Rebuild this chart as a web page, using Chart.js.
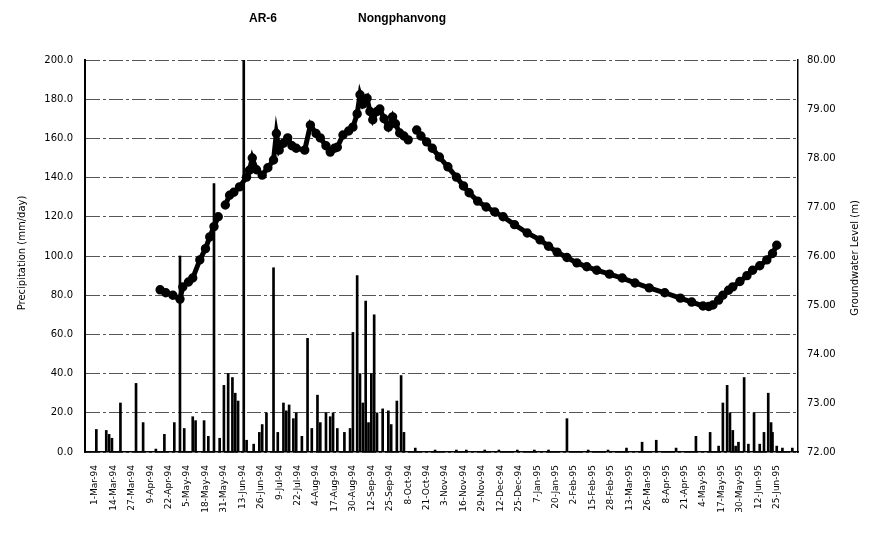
<!DOCTYPE html>
<html>
<head>
<meta charset="utf-8">
<script src="https://cdn.jsdelivr.net/npm/chart.js@4"></script>
<style>
  html, body { margin: 0; padding: 0; background: #fff; }
  #wrap { width: 872px; height: 538px; }
</style>
</head>
<body>
<div id="wrap"><canvas id="arChart" width="872" height="538"></canvas></div>
<script>
// days are counted from 1-Mar-94 (day 0)
const tickDays = [0, 13, 26, 39, 52, 65, 78, 91, 104, 117, 130, 143, 156, 169, 182, 195, 208, 221, 234,
    247, 260, 273, 286, 299, 312, 325, 338, 351, 364, 377, 390, 403, 416, 429, 442, 455, 468, 481];
const tickLabels = [
    "1-Mar-94", "14-Mar-94", "27-Mar-94", "9-Apr-94", "22-Apr-94", "5-May-94", "18-May-94", "31-May-94",
    "13-Jun-94", "26-Jun-94", "9-Jul-94", "22-Jul-94", "4-Aug-94", "17-Aug-94", "30-Aug-94", "12-Sep-94",
    "25-Sep-94", "8-Oct-94", "21-Oct-94", "3-Nov-94", "16-Nov-94", "29-Nov-94", "12-Dec-94", "25-Dec-94",
    "7-Jan-95", "20-Jan-95", "2-Feb-95", "15-Feb-95", "28-Feb-95", "13-Mar-95", "26-Mar-95", "8-Apr-95",
    "21-Apr-95", "4-May-95", "17-May-95", "30-May-95", "12-Jun-95", "25-Jun-95"
];

// daily precipitation (mm/day), only the days with rain
const rainDay = [1, 8, 10, 12, 18, 29, 34, 43, 49, 56, 60, 63, 69, 71, 77, 80, 84, 88, 91, 94, 97, 99, 101, 105,
    107, 112, 116, 118, 121, 126, 129, 133, 135, 137, 140, 142, 146, 150, 153, 157, 159, 163, 166, 168, 171,
    176, 180, 182, 185, 187, 189, 191, 193, 195, 197, 199, 203, 207, 209, 213, 216, 218,
    226, 240, 255, 262, 275, 285, 298, 310, 320, 333, 348, 362, 375, 386, 396, 410, 424, 434, 440,
    443, 446, 448, 450, 452, 454, 458, 461, 465, 469, 472, 475, 477, 478, 481, 485, 492];
const rainMm = [11.5, 11, 9, 7, 25, 35, 15, 1.5, 9, 15, 100, 12, 18, 16, 16, 8, 137, 7, 34, 40, 38, 30, 26, 200,
    6, 4, 10, 14, 20, 94, 10, 25, 21, 24, 17, 20, 8, 58, 12, 29, 15, 20, 18, 20, 12,
    10, 12, 61, 90, 40, 25, 77, 15, 40, 70, 20, 22, 21, 14, 26, 39, 10,
    2, 1, 1, 1, 1, 1, 1, 1, 1, 17, 1, 1, 2, 5, 6, 2, 8, 10, 3,
    25, 34, 20, 11, 3, 5, 38, 4, 20, 4, 10, 30, 15, 10, 3, 2, 2];

// groundwater level (m), null marks a break in the record
const levelDay = [46, 50, 55, 60, 62, 66, 69, 74, 78, 81, 84, 87, 89,
    92, 95, 98, 102, 107, 109, 111, 114, 118, 122, 126, 128, 130, 133, 136, 139, 142, 148, 152, 156, 159,
    163, 166, 169, 171, 175, 179, 182, 185, 187, 189, 192, 194, 196, 199, 201, 204, 207, 210, 212, 215,
    218, 221, 224,
    227, 230, 234, 238, 243, 249, 255, 260, 264, 270, 276, 282, 288, 296, 305, 314, 320, 326, 333, 340,
    347, 354, 363, 372, 381, 391, 402, 413, 421, 429, 433, 436, 440, 443, 447, 450, 455, 460, 464, 469,
    474, 478, 481];
const levelM = [75.31, 75.25, 75.2, 75.12, 75.37, 75.47, 75.55, 75.92, 76.15, 76.39, 76.6, 76.8, null,
    77.04, 77.24, 77.3, 77.41, 77.61, 77.75, 78.0, 77.76, 77.65, 77.8, 77.96, 78.5, 78.16, 78.3, 78.41, 78.25,
    78.2, 78.16, 78.67, 78.5, 78.41, 78.25, 78.12, 78.2, 78.22, 78.47, 78.55, 78.63, 78.9, 79.29, 79.1, 79.22,
    78.95, 78.78, 78.95, 79.0, 78.8, 78.63, 78.84, 78.7, 78.51, 78.45, 78.37, null,
    78.57, 78.45, 78.33, 78.2, 78.02, 77.82, 77.61, 77.43, 77.29, 77.12, 77.0, 76.9, 76.8, 76.64, 76.47,
    76.33, 76.2, 76.08, 75.97, 75.86, 75.78, 75.71, 75.63, 75.55, 75.45, 75.35, 75.25, 75.14, 75.06, 74.98,
    74.97, 75.0, 75.1, 75.2, 75.3, 75.37, 75.48, 75.6, 75.71, 75.8, 75.92, 76.05, 76.22];

const FONT = "'DejaVu Sans', sans-serif";

// titles drawn by hand so the right one reads bottom-to-top like the left one
const titlesPlugin = {
    id: 'titles',
    afterDraw(chart) {
        const ctx = chart.ctx;
        ctx.save();
        ctx.fillStyle = '#000';
        ctx.textAlign = 'center';
        ctx.textBaseline = 'middle';
        ctx.font = "bold 12px 'Liberation Sans', sans-serif";
        ctx.fillText('AR-6', 263, 19);
        ctx.fillText('Nongphanvong', 402, 19);

        ctx.font = '10px ' + FONT;
        ctx.translate(22, 253);
        ctx.rotate(-Math.PI / 2);
        ctx.fillText('Precipitation (mm/day)', 0, 0);
        ctx.restore();

        ctx.save();
        ctx.fillStyle = '#000';
        ctx.textAlign = 'center';
        ctx.textBaseline = 'middle';
        ctx.font = '10px ' + FONT;
        ctx.translate(855, 258);
        ctx.rotate(-Math.PI / 2);
        ctx.fillText('Groundwater Level (m)', 0, 0);
        ctx.restore();
    }
};

const ctx = document.getElementById('arChart').getContext('2d');
new Chart(ctx, {
    type: 'bar',
    data: {
        datasets: [{
            type: 'line',
            label: 'Groundwater Level',
            data: levelDay.map((d, i) => ({ x: d, y: levelM[i] })),
            yAxisID: 'y1',
            borderColor: '#000',
            borderWidth: 5,
            pointRadius: 2.2,
            pointBackgroundColor: '#000',
            pointBorderColor: '#000',
            tension: 0,
            spanGaps: false,
            order: 0
        }, {
            label: 'Precipitation',
            data: rainDay.map((d, i) => ({ x: d, y: rainMm[i] })),
            yAxisID: 'y',
            backgroundColor: '#000',
            borderWidth: 0,
            barThickness: 2,
            order: 1
        }]
    },
    options: {
        responsive: false,
        animation: false,
        layout: { padding: { top: 60 } },
        plugins: {
            legend: { display: false },
            tooltip: { enabled: false }
        },
        scales: {
            x: {
                type: 'linear',
                min: -7,
                max: 496,
                offset: false,
                afterBuildTicks: s => { s.ticks = tickDays.map(v => ({ value: v })); },
                afterFit: s => { s.height = 86; },
                grid: { display: false },
                border: { display: true, color: '#000', width: 1.5 },
                ticks: {
                    autoSkip: false,
                    minRotation: 90,
                    maxRotation: 90,
                    padding: 5,
                    color: '#000',
                    font: { family: FONT, size: 9 },
                    callback: (v, i) => tickLabels[i]
                }
            },
            y: {
                position: 'left',
                min: 0,
                max: 200,
                afterFit: s => { s.width = 85; },
                grid: { color: '#555', lineWidth: 1, drawTicks: false },
                border: { display: true, color: '#000', width: 2, dash: [14, 3, 3, 3] },
                ticks: {
                    stepSize: 20,
                    padding: 12,
                    color: '#000',
                    font: { family: FONT, size: 10 },
                    callback: v => v.toFixed(1)
                }
            },
            y1: {
                position: 'right',
                min: 72,
                max: 80,
                afterFit: s => { s.width = 74; },
                grid: { display: false, drawOnChartArea: false, drawTicks: false },
                border: { display: true, color: '#000', width: 1.5 },
                ticks: {
                    stepSize: 1,
                    padding: 9,
                    color: '#000',
                    font: { family: FONT, size: 10 },
                    callback: v => v.toFixed(2)
                }
            }
        }
    },
    plugins: [titlesPlugin]
});
</script>
</body>
</html>
